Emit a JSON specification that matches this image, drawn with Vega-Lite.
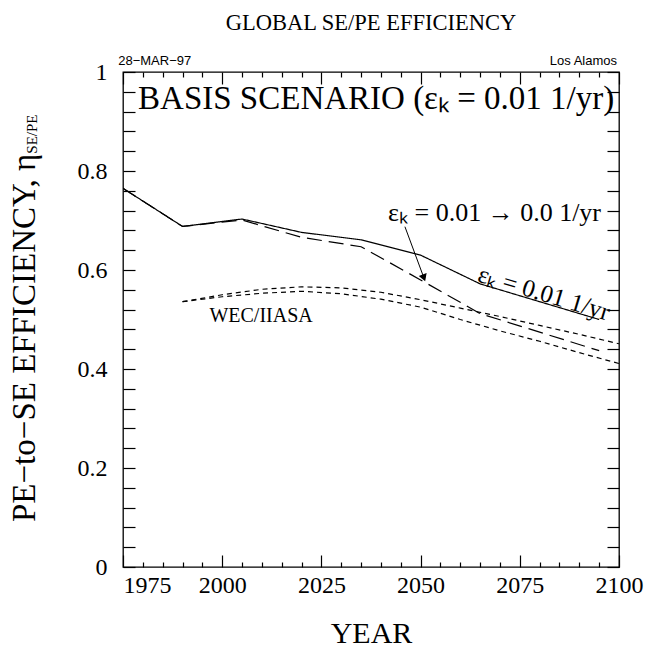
{
  "$schema": "https://vega.github.io/schema/vega-lite/v6.json",
  "width": 496,
  "height": 495,
  "autosize": {"type": "none"},
  "padding": {"left": 123, "top": 72, "right": 29, "bottom": 86},
  "title": {"text": "GLOBAL SE/PE EFFICIENCY", "font": "Liberation Serif", "fontSize": 22.5, "fontWeight": "normal", "color": "black", "anchor": "middle", "frame": "group", "baseline": "alphabetic", "offset": 3},
  "config": {
    "view": {"stroke": "black", "strokeWidth": 1.3},
    "font": "Liberation Serif",
    "axis": {"grid": false, "domain": false, "tickColor": "black", "tickWidth": 1.2, "labelColor": "black", "titleColor": "black", "labelFont": "Liberation Serif", "labelFontSize": 24, "titleFont": "Liberation Serif", "titleFontWeight": "normal", "labelOverlap": false, "labelFlush": false, "labelBound": false}
  },
  "datasets": {
    "series": [
      {"series": "basis", "year": 1975, "value": 0.765},
      {"series": "basis", "year": 1990, "value": 0.688},
      {"series": "basis", "year": 2005, "value": 0.703},
      {"series": "basis", "year": 2020, "value": 0.676},
      {"series": "basis", "year": 2035, "value": 0.661},
      {"series": "basis", "year": 2050, "value": 0.630},
      {"series": "basis", "year": 2065, "value": 0.572},
      {"series": "basis", "year": 2095, "value": 0.500},
      {"series": "phaseout", "year": 1975, "value": 0.765},
      {"series": "phaseout", "year": 1990, "value": 0.688},
      {"series": "phaseout", "year": 2005, "value": 0.701},
      {"series": "phaseout", "year": 2020, "value": 0.666},
      {"series": "phaseout", "year": 2035, "value": 0.647},
      {"series": "phaseout", "year": 2050, "value": 0.580},
      {"series": "phaseout", "year": 2065, "value": 0.512},
      {"series": "phaseout", "year": 2095, "value": 0.437},
      {"series": "wec_hi", "year": 1990, "value": 0.536},
      {"series": "wec_hi", "year": 2000, "value": 0.550},
      {"series": "wec_hi", "year": 2010, "value": 0.561},
      {"series": "wec_hi", "year": 2020, "value": 0.566},
      {"series": "wec_hi", "year": 2030, "value": 0.564},
      {"series": "wec_hi", "year": 2040, "value": 0.555},
      {"series": "wec_hi", "year": 2050, "value": 0.540},
      {"series": "wec_hi", "year": 2060, "value": 0.523},
      {"series": "wec_hi", "year": 2070, "value": 0.506},
      {"series": "wec_hi", "year": 2080, "value": 0.488},
      {"series": "wec_hi", "year": 2090, "value": 0.470},
      {"series": "wec_hi", "year": 2100, "value": 0.451},
      {"series": "wec_lo", "year": 1990, "value": 0.536},
      {"series": "wec_lo", "year": 2000, "value": 0.546},
      {"series": "wec_lo", "year": 2010, "value": 0.553},
      {"series": "wec_lo", "year": 2020, "value": 0.557},
      {"series": "wec_lo", "year": 2030, "value": 0.552},
      {"series": "wec_lo", "year": 2040, "value": 0.541},
      {"series": "wec_lo", "year": 2050, "value": 0.525},
      {"series": "wec_lo", "year": 2060, "value": 0.500},
      {"series": "wec_lo", "year": 2070, "value": 0.477},
      {"series": "wec_lo", "year": 2080, "value": 0.456},
      {"series": "wec_lo", "year": 2090, "value": 0.433},
      {"series": "wec_lo", "year": 2100, "value": 0.411}
    ]
  },
  "resolve": {"axis": {"x": "independent", "y": "independent"}},
  "layer": [
    {
      "data": {"name": "series"},
      "mark": {"type": "line", "color": "black", "strokeWidth": 1.2, "clip": true},
      "encoding": {
        "x": {"field": "year", "type": "quantitative", "scale": {"domain": [1975, 2100], "nice": false, "zero": false},
          "axis": {"orient": "bottom", "values": [1975,1980,1985,1990,1995,2000,2005,2010,2015,2020,2025,2030,2035,2040,2045,2050,2055,2060,2065,2070,2075,2080,2085,2090,2095,2100],
            "format": "d", "labelExpr": "datum.value % 25 === 0 ? datum.label : ''",
            "tickSize": {"condition": {"test": "datum.value % 25 === 0", "value": -12}, "value": -5},
            "labelAlign": {"condition": {"test": "datum.value === 1975", "value": "left"}, "value": "center"},
            "labelPadding": 18, "title": "YEAR", "titleFontSize": 30, "titlePadding": 14}},
        "y": {"field": "value", "type": "quantitative", "scale": {"domain": [0, 1], "nice": false, "zero": false},
          "axis": {"orient": "left", "values": [0,0.04,0.08,0.12,0.16,0.2,0.24,0.28,0.32,0.36,0.4,0.44,0.48,0.52,0.56,0.6,0.64,0.68,0.72,0.76,0.8,0.84,0.88,0.92,0.96,1],
            "labelExpr": "abs(datum.value*5 - round(datum.value*5)) < 0.001 ? (datum.value < 0.001 ? '0' : (datum.value > 0.999 ? '1' : format(datum.value, '.1f'))) : ''",
            "tickSize": -12, "labelPadding": 28, "title": null}},
        "strokeDash": {"field": "series", "type": "nominal", "legend": null,
          "scale": {"domain": ["basis", "phaseout", "wec_hi", "wec_lo"], "range": [[1, 0], [15, 7], [5, 4], [5, 4]]}}
      }
    },
    {
      "data": {"name": "series"},
      "mark": {"type": "point", "opacity": 0},
      "encoding": {
        "x": {"field": "year", "type": "quantitative", "scale": {"domain": [1975, 2100], "nice": false, "zero": false},
          "axis": {"orient": "top", "values": [1975,1980,1985,1990,1995,2000,2005,2010,2015,2020,2025,2030,2035,2040,2045,2050,2055,2060,2065,2070,2075,2080,2085,2090,2095,2100],
            "labels": false, "title": null,
            "tickSize": {"condition": {"test": "datum.value % 25 === 0", "value": -12}, "value": -5}}},
        "y": {"field": "value", "type": "quantitative", "scale": {"domain": [0, 1], "nice": false, "zero": false},
          "axis": {"orient": "right", "values": [0,0.04,0.08,0.12,0.16,0.2,0.24,0.28,0.32,0.36,0.4,0.44,0.48,0.52,0.56,0.6,0.64,0.68,0.72,0.76,0.8,0.84,0.88,0.92,0.96,1],
            "labels": false, "title": null, "tickSize": -12}}
      }
    },
    {
      "data": {"values": [{"year": 2046.05, "value": 0.6875, "year2": 2050.84, "value2": 0.584}]},
      "mark": {"type": "rule", "color": "black", "strokeWidth": 1},
      "encoding": {
        "x": {"field": "year", "type": "quantitative", "scale": {"domain": [1975, 2100]}, "axis": null},
        "y": {"field": "value", "type": "quantitative", "scale": {"domain": [0, 1]}, "axis": null},
        "x2": {"field": "year2"},
        "y2": {"field": "value2"}
      }
    },
    {
      "data": {"values": [{"year": 2050.84, "value": 0.584}]},
      "mark": {"type": "point", "shape": "triangle-down", "filled": true, "color": "black", "opacity": 1, "size": 70, "angle": 340},
      "encoding": {
        "x": {"field": "year", "type": "quantitative", "scale": {"domain": [1975, 2100]}, "axis": null},
        "y": {"field": "value", "type": "quantitative", "scale": {"domain": [0, 1]}, "axis": null}
      }
    },
    {
      "data": {"values": [{"year": 2038.8, "value": 0.945, "label": "BASIS SCENARIO (εₖ = 0.01 1/yr)"}]},
      "mark": {"type": "text", "font": "Liberation Serif", "fontSize": 33, "align": "center", "baseline": "middle", "color": "black"},
      "encoding": {
        "x": {"field": "year", "type": "quantitative", "scale": {"domain": [1975, 2100]}, "axis": null},
        "y": {"field": "value", "type": "quantitative", "scale": {"domain": [0, 1]}, "axis": null},
        "text": {"field": "label"}
      }
    },
    {
      "data": {"values": [{"year": 2041.8, "value": 0.715, "label": "εₖ = 0.01 → 0.0 1/yr"}]},
      "mark": {"type": "text", "font": "Liberation Serif", "fontSize": 26, "align": "left", "baseline": "middle", "color": "black"},
      "encoding": {
        "x": {"field": "year", "type": "quantitative", "scale": {"domain": [1975, 2100]}, "axis": null},
        "y": {"field": "value", "type": "quantitative", "scale": {"domain": [0, 1]}, "axis": null},
        "text": {"field": "label"}
      }
    },
    {
      "data": {"values": [{"year": 2081.1, "value": 0.553, "label": "εₖ = 0.01 1/yr"}]},
      "mark": {"type": "text", "font": "Liberation Serif", "fontSize": 25, "align": "center", "baseline": "middle", "color": "black", "angle": 16.7},
      "encoding": {
        "x": {"field": "year", "type": "quantitative", "scale": {"domain": [1975, 2100]}, "axis": null},
        "y": {"field": "value", "type": "quantitative", "scale": {"domain": [0, 1]}, "axis": null},
        "text": {"field": "label"}
      }
    },
    {
      "data": {"values": [{"year": 2009.8, "value": 0.507, "label": "WEC/IIASA"}]},
      "mark": {"type": "text", "font": "Liberation Serif", "fontSize": 20, "align": "center", "baseline": "middle", "color": "black"},
      "encoding": {
        "x": {"field": "year", "type": "quantitative", "scale": {"domain": [1975, 2100]}, "axis": null},
        "y": {"field": "value", "type": "quantitative", "scale": {"domain": [0, 1]}, "axis": null},
        "text": {"field": "label"}
      }
    },
    {
      "data": {"values": [{"year": 1973.8, "value": 1.022, "label": "28−MAR−97"}]},
      "mark": {"type": "text", "font": "Liberation Sans", "fontSize": 13, "align": "left", "baseline": "middle", "color": "black"},
      "encoding": {
        "x": {"field": "year", "type": "quantitative", "scale": {"domain": [1975, 2100]}, "axis": null},
        "y": {"field": "value", "type": "quantitative", "scale": {"domain": [0, 1]}, "axis": null},
        "text": {"field": "label"}
      }
    },
    {
      "data": {"values": [{"year": 2099.5, "value": 1.022, "label": "Los Alamos"}]},
      "mark": {"type": "text", "font": "Liberation Sans", "fontSize": 13, "align": "right", "baseline": "middle", "color": "black"},
      "encoding": {
        "x": {"field": "year", "type": "quantitative", "scale": {"domain": [1975, 2100]}, "axis": null},
        "y": {"field": "value", "type": "quantitative", "scale": {"domain": [0, 1]}, "axis": null},
        "text": {"field": "label"}
      }
    },
    {
      "data": {"values": [{"year": 1950.2, "value": 0.0909, "label": "PE−to−SE EFFICIENCY, η"}]},
      "mark": {"type": "text", "font": "Liberation Serif", "fontSize": 33, "align": "left", "baseline": "middle", "color": "black", "angle": 270},
      "encoding": {
        "x": {"field": "year", "type": "quantitative", "scale": {"domain": [1975, 2100]}, "axis": null},
        "y": {"field": "value", "type": "quantitative", "scale": {"domain": [0, 1]}, "axis": null},
        "text": {"field": "label"}
      }
    },
    {
      "data": {"values": [{"year": 1952.0, "value": 0.835, "label": "SE/PE"}]},
      "mark": {"type": "text", "font": "Liberation Serif", "fontSize": 15, "align": "left", "baseline": "middle", "color": "black", "angle": 270},
      "encoding": {
        "x": {"field": "year", "type": "quantitative", "scale": {"domain": [1975, 2100]}, "axis": null},
        "y": {"field": "value", "type": "quantitative", "scale": {"domain": [0, 1]}, "axis": null},
        "text": {"field": "label"}
      }
    }
  ]
}
